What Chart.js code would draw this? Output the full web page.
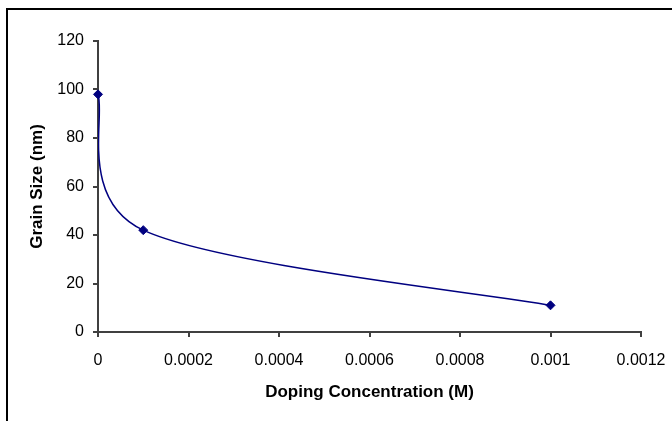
<!DOCTYPE html>
<html>
<head>
<meta charset="utf-8">
<script src="https://cdn.jsdelivr.net/npm/chart.js@4.4.1/dist/chart.umd.min.js"></script>
<style>
  html, body { margin: 0; padding: 0; background: #fff; overflow: hidden; }
  #frame { position: absolute; left: 6px; top: 8px; width: 720px; height: 480px; border: 2px solid #000; }
  #chart { position: absolute; left: 0; top: 0; }
</style>
</head>
<body>
<div id="frame"></div>
<canvas id="chart" width="672" height="421"></canvas>
<script>
// data
var concentration = [0, 0.0001, 0.001];
var grainSize = [98, 42, 11];
var xTickLabels = ["0", "0.0002", "0.0004", "0.0006", "0.0008", "0.001", "0.0012"];
var yTickLabels = ["0", "20", "40", "60", "80", "100", "120"];

var navy = "#000080";
var axisGrey = "#404040";
var fontFamily = "'Liberation Sans', Arial, sans-serif";

// Excel-style smoothed line, drawn through the chart's scales
var excelSmoothLine = {
    id: "excelSmoothLine",
    beforeDatasetsDraw: function(chart) {
        var xs = chart.scales.x, ys = chart.scales.y;
        var pts = concentration.map(function(c, i) {
            return { x: xs.getPixelForValue(c), y: ys.getPixelForValue(grainSize[i]) };
        });
        var dist = function(a, b) { return Math.hypot(b.x - a.x, b.y - a.y); };
        var ctx = chart.ctx, area = chart.chartArea;
        ctx.save();
        ctx.beginPath();
        ctx.rect(area.left, area.top, area.right - area.left, area.bottom - area.top);
        ctx.clip();
        ctx.beginPath();
        ctx.moveTo(pts[0].x, pts[0].y);
        for (var i = 0; i < pts.length - 1; i++) {
            var p0 = pts[i - 1] || pts[i], p1 = pts[i], p2 = pts[i + 1], p3 = pts[i + 2] || pts[i + 1];
            var d02 = dist(p0, p2), d12 = dist(p1, p2), d13 = dist(p1, p3);
            var f1 = (d02 / 6 < d12 / 2) ? 1 / 6 : d12 / (2 * d02);
            var f2 = (d13 / 6 < d12 / 2) ? 1 / 6 : d12 / (2 * d13);
            ctx.bezierCurveTo(
                p1.x + f1 * (p2.x - p0.x), p1.y + f1 * (p2.y - p0.y),
                p2.x - f2 * (p3.x - p1.x), p2.y - f2 * (p3.y - p1.y),
                p2.x, p2.y);
        }
        ctx.strokeStyle = navy;
        ctx.lineWidth = 1.5;
        ctx.stroke();
        ctx.restore();
    }
};

var points = concentration.map(function(c, i) { return { x: c, y: grainSize[i] }; });

new Chart(document.getElementById("chart"), {
    type: "scatter",
    data: {
        datasets: [{
            data: points,
            showLine: false,
            pointStyle: "rectRot",
            pointRadius: 4.5,
            pointHoverRadius: 4.5,
            backgroundColor: navy,
            borderColor: navy,
            borderWidth: 1,
            clip: false
        }]
    },
    options: {
        responsive: false,
        animation: false,
        events: [],
        layout: { padding: { top: 41, right: 31, left: 0, bottom: 0 } },
        plugins: { legend: { display: false }, tooltip: { enabled: false } },
        scales: {
            x: {
                type: "linear",
                min: 0,
                max: 0.0012,
                afterFit: function(scale) {
                    scale.height = 89;
                    scale.paddingLeft = 0;
                    scale.paddingRight = 0;
                },
                ticks: {
                    stepSize: 0.0002,
                    autoSkip: false,
                    maxRotation: 0,
                    padding: 14,
                    color: "#000",
                    font: { family: fontFamily, size: 16 },
                    callback: function(value, index) { return xTickLabels[index]; }
                },
                grid: { display: true, drawOnChartArea: false, drawTicks: true, tickLength: 5, color: axisGrey, lineWidth: 2 },
                border: { display: true, color: axisGrey, width: 2 },
                title: {
                    display: true,
                    text: "Doping Concentration (M)",
                    color: "#000",
                    font: { family: fontFamily, size: 17, weight: "bold" },
                    padding: { top: 0, bottom: 18 }
                }
            },
            y: {
                type: "linear",
                min: 0,
                max: 120,
                afterFit: function(scale) {
                    scale.width = 98;
                    scale.paddingTop = 0;
                    scale.paddingBottom = 0;
                },
                ticks: {
                    stepSize: 20,
                    padding: 9,
                    color: "#000",
                    font: { family: fontFamily, size: 16 },
                    callback: function(value, index) { return yTickLabels[index]; }
                },
                grid: { display: true, drawOnChartArea: false, drawTicks: true, tickLength: 5, color: axisGrey, lineWidth: 2 },
                border: { display: true, color: axisGrey, width: 2 },
                title: {
                    display: true,
                    text: "Grain Size (nm)",
                    color: "#000",
                    font: { family: fontFamily, size: 17, weight: "bold" },
                    padding: { top: 27, bottom: 0 }
                }
            }
        }
    },
    plugins: [excelSmoothLine]
});
</script>
</body>
</html>
